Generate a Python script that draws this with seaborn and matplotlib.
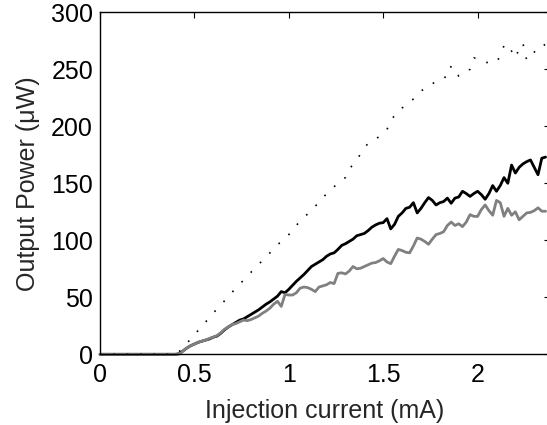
import numpy as np
import matplotlib
matplotlib.use("Agg")
import matplotlib.pyplot as plt
import seaborn as sns

# Injection current grid (mA), sampled every 0.02 mA
current = np.round(np.arange(0, 2.361, 0.02), 2)

zeros = [0.0] * 21  # 0.00 .. 0.40

black_rise = [0.5, 3, 5.5, 7.5, 9, 10.5, 11.5, 12.5, 13.5, 15, 16, 18.5, 21.5, 24, 26, 28, 30,
              31, 33, 35, 37, 39, 41.5, 44, 46, 48.5, 51, 55, 54, 57, 60.5, 64, 67, 70, 73.5,
              77, 79, 81, 83, 86, 88, 89, 92, 95.5, 97, 99, 101, 104, 105, 106, 108.5, 111.5,
              113.5, 115, 115.5, 119, 110, 114, 121, 124, 128, 129, 133, 124, 128, 133, 137.5,
              135, 131, 133, 134, 137, 132.5, 137, 138, 143, 141, 138.5, 141, 143, 140, 136,
              141, 148, 143, 148, 155, 150, 166, 159, 164, 167, 169, 170.5, 164, 157.5, 172, 173]

gray_rise = [0.5, 3, 5.5, 7.5, 9, 10.5, 11.5, 12.5, 14, 15, 16.5, 19, 22, 24, 26, 27, 28.5,
             30, 29.5, 30.5, 32, 33.5, 36, 38, 40.5, 44, 46.5, 42, 52.5, 52, 52, 54, 58, 59,
             58.5, 57, 55, 59, 60, 61, 63, 62, 71, 71.5, 70.5, 73, 77, 75, 75.5, 77, 78.5, 80,
             80.5, 82, 84, 81, 79.5, 86, 92, 91, 89.5, 89, 95, 102, 101, 99, 96.5, 101, 105,
             106, 107.5, 113, 116, 113, 114.5, 112, 116, 122.5, 121, 121, 127, 131, 126, 122,
             135, 133, 121, 128, 122, 125, 118, 121, 124, 124.5, 126, 128.5, 125.5, 125.5]

dotted_rise = [2.5, 6, 9.5, 13.5, 17, 21, 24.5, 28.5, 32, 36, 40, 43.5, 47, 50.5, 54.5, 58,
               61.5, 65, 68.5, 72, 75.5, 79, 82, 85.5, 89, 92.5, 96, 99, 102, 105, 110, 113,
               117, 120.5, 123, 126, 130, 133, 137, 141, 144, 147, 150, 153, 155, 163, 166,
               170, 176, 181, 185, 187.5, 189, 191, 194, 197, 206, 209, 211, 216, 219, 221,
               224, 227, 231, 233, 234, 237, 240, 241, 243, 243, 253, 250, 244, 246, 248, 250,
               260, 259, 257, 256, 256, 255, 257, 261, 271, 265, 266, 260, 268, 273, 258, 262,
               265, 270, 270, 272]

power_black = np.array(zeros + black_rise)
power_gray = np.array(zeros + gray_rise)
power_dotted = np.array(zeros + dotted_rise)

x_ticks = [0, 0.5, 1, 1.5, 2]
y_ticks = [0, 50, 100, 150, 200, 250, 300]

sns.set_style("white")
plt.rcParams['font.family'] = ['Liberation Sans', 'DejaVu Sans']

fig = plt.figure(figsize=(5.47, 4.25), dpi=100)
ax = fig.add_axes([100 / 547, 70.7 / 425, 450 / 547, 342 / 425])

sns.lineplot(x=current, y=power_black, color='black', lw=2.0, ax=ax, clip_on=False)
sns.lineplot(x=current, y=power_gray, color='#808080', lw=2.0, ax=ax, clip_on=False)
sns.lineplot(x=current, y=power_dotted, color='black', lw=1.2, linestyle=(0, (1, 7)), ax=ax)

ax.set_xlim(0, 450 / 188.8)
ax.set_ylim(0, 300)
ax.set_xticks(x_ticks)
ax.set_xticklabels(['0', '0.5', '1', '1.5', '2'])
ax.set_yticks(y_ticks)
ax.tick_params(direction='in', length=4, width=0.8, labelsize=18, top=True, right=True,
               colors='black', pad=5)
ax.tick_params(axis='x', pad=6)
for s in ax.spines.values():
    s.set_color('black')
    s.set_linewidth(1.0)

ax.set_xlabel('Injection current (mA)', fontsize=18, labelpad=9)
ax.set_ylabel('Output Power (\u03bcW)', fontsize=18, labelpad=8)
ax.grid(False)

fig.savefig('out.png', dpi=100)
